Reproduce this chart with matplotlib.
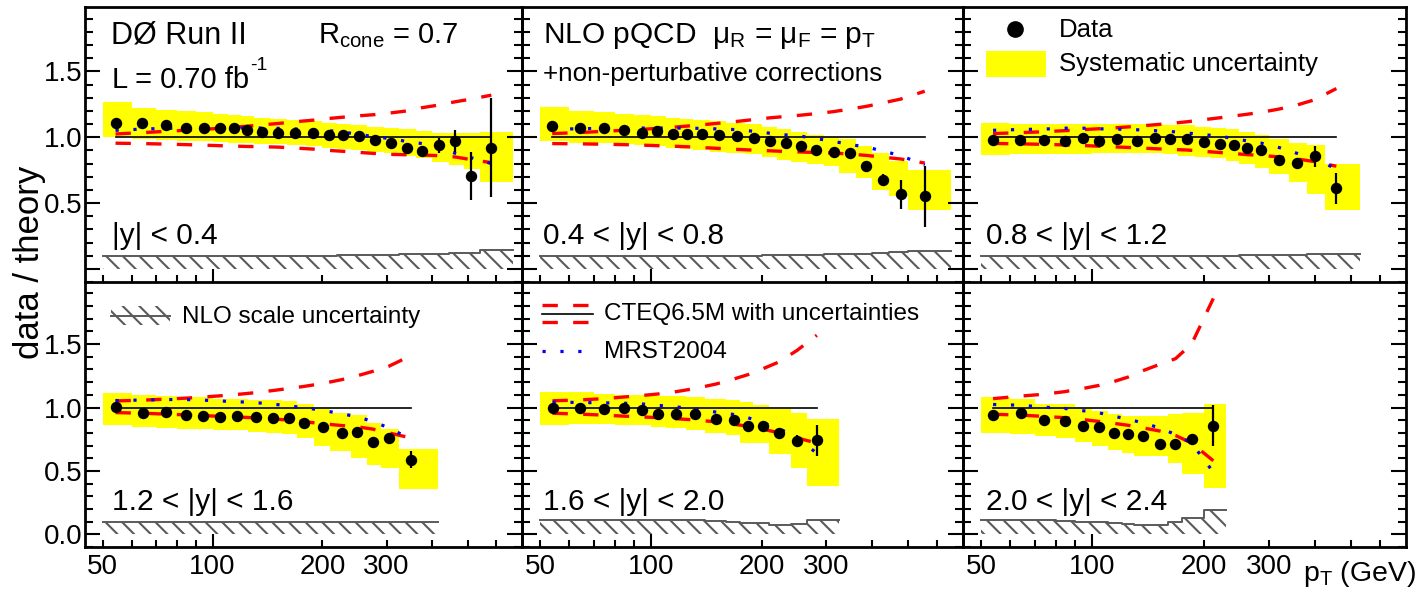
import numpy as np
import matplotlib
matplotlib.use("Agg")
import matplotlib.pyplot as plt
from matplotlib.ticker import FixedLocator, NullFormatter, FuncFormatter
from matplotlib.patches import Rectangle
from matplotlib.lines import Line2D

plt.rcParams['font.family'] = ['Liberation Sans', 'DejaVu Sans']
plt.rcParams['mathtext.fontset'] = 'custom'
plt.rcParams['mathtext.rm'] = 'Liberation Sans'
plt.rcParams['mathtext.it'] = 'Liberation Sans'
plt.rcParams['mathtext.default'] = 'regular'
plt.rcParams['hatch.color'] = '#5a5a5a'
plt.rcParams['hatch.linewidth'] = 1.5

# ---------------- data ----------------
rap_labels = ["|y| < 0.4", "0.4 < |y| < 0.8", "0.8 < |y| < 1.2",
              "1.2 < |y| < 1.6", "1.6 < |y| < 2.0", "2.0 < |y| < 2.4"]

# |y| < 0.4
edges_1 = [50, 60, 70, 80, 90, 100, 110, 120, 130, 145, 160, 180, 200, 220, 240, 265, 295, 325, 360, 400, 445, 490, 540, 665]
pt_1 = [54.2, 64.2, 74.3, 84.4, 94.5, 104.5, 114.2, 124.2, 136.5, 151.6, 168.5, 188.8, 208.7, 228.5, 251.3, 278, 307.5, 340.7, 375.4, 417.6, 463, 511, 581]
ratio_1 = [1.105, 1.105, 1.092, 1.071, 1.071, 1.071, 1.074, 1.053, 1.041, 1.033, 1.036, 1.033, 1.015, 1.02, 1.008, 0.982, 0.959, 0.919, 0.893, 0.939, 0.972, 0.705, 0.921]
stat_1 = [0.005] * 18 + [0.012, 0.057, 0.085, 0.185, 0.375]
syshi_1 = [1.27, 1.22, 1.21, 1.20, 1.19, 1.18, 1.17, 1.16, 1.15, 1.14, 1.13, 1.12, 1.11, 1.10, 1.09, 1.08, 1.07, 1.06, 1.05, 1.03, 1.03, 1.03, 1.04]
syslo_1 = [1.00, 0.99, 0.98, 0.975, 0.97, 0.965, 0.96, 0.955, 0.95, 0.945, 0.94, 0.93, 0.92, 0.91, 0.90, 0.89, 0.88, 0.86, 0.84, 0.81, 0.79, 0.76, 0.66]
cteqhi_1 = [1.025, 1.035, 1.045, 1.053, 1.06, 1.068, 1.076, 1.084, 1.094, 1.105, 1.118, 1.13, 1.143, 1.153, 1.163, 1.172, 1.185, 1.2, 1.225, 1.245, 1.27, 1.29, 1.32]
cteqlo_1 = [0.955, 0.952, 0.948, 0.944, 0.94, 0.936, 0.933, 0.93, 0.928, 0.925, 0.918, 0.91, 0.90, 0.893, 0.885, 0.877, 0.87, 0.867, 0.865, 0.86, 0.85, 0.83, 0.807]
mrst_1 = [1.053, 1.062, 1.068, 1.07, 1.071, 1.071, 1.071, 1.071, 1.07, 1.068, 1.063, 1.058, 1.05, 1.038, 1.023, 1.003, 0.99, 0.968, 0.952, 0.92, 0.878, 0.845, 0.80]
scale_1 = [0.10] * 13 + [0.102, 0.104, 0.106, 0.108, 0.11, 0.113, 0.116, 0.12, 0.124, 0.142]

# 0.4 < |y| < 0.8
edges_2 = [50, 60, 70, 80, 90, 100, 110, 120, 130, 145, 160, 180, 200, 220, 240, 265, 295, 325, 360, 400, 445, 500, 655]
pt_2 = [54, 64.2, 74.5, 84.5, 94.9, 104.3, 115, 125.5, 137.8, 153.3, 171, 191, 211.3, 232.3, 255.9, 281.9, 314, 348.5, 385.5, 428.5, 477, 555]
ratio_2 = [1.084, 1.071, 1.071, 1.053, 1.033, 1.048, 1.028, 1.028, 1.023, 1.02, 1.01, 0.995, 0.969, 0.957, 0.934, 0.901, 0.888, 0.883, 0.781, 0.672, 0.565, 0.55]
stat_2 = [0.005] * 17 + [0.01, 0.03, 0.045, 0.11, 0.23]
syshi_2 = [1.23, 1.20, 1.19, 1.18, 1.17, 1.16, 1.15, 1.14, 1.13, 1.12, 1.11, 1.10, 1.08, 1.06, 1.04, 1.02, 1.00, 0.99, 0.93, 0.88, 0.82, 0.75]
syslo_2 = [0.97, 0.96, 0.955, 0.95, 0.94, 0.93, 0.92, 0.91, 0.90, 0.89, 0.88, 0.87, 0.85, 0.83, 0.81, 0.80, 0.78, 0.73, 0.69, 0.60, 0.55, 0.45]
cteqhi_2 = [1.028, 1.036, 1.045, 1.053, 1.06, 1.068, 1.076, 1.085, 1.095, 1.107, 1.12, 1.135, 1.148, 1.158, 1.168, 1.18, 1.195, 1.215, 1.235, 1.262, 1.29, 1.35]
cteqlo_2 = [0.952, 0.95, 0.947, 0.944, 0.94, 0.936, 0.932, 0.928, 0.922, 0.915, 0.908, 0.902, 0.897, 0.892, 0.888, 0.884, 0.88, 0.872, 0.862, 0.848, 0.835, 0.804]
mrst_2 = [1.06, 1.065, 1.068, 1.07, 1.07, 1.07, 1.07, 1.07, 1.067, 1.063, 1.058, 1.045, 1.03, 1.018, 1.008, 0.99, 0.968, 0.945, 0.925, 0.895, 0.86, 0.79]
scale_2 = [0.10] * 12 + [0.102, 0.104, 0.106, 0.108, 0.11, 0.113, 0.116, 0.12, 0.125, 0.137]

# 0.8 < |y| < 1.2
edges_3 = [50, 60, 70, 80, 90, 100, 110, 125, 140, 155, 170, 190, 210, 230, 250, 275, 300, 340, 380, 425, 530]
pt_3 = [53.9, 63.9, 74, 84.1, 94.3, 104.5, 116.8, 131.7, 147.3, 162.6, 180.6, 200.6, 221, 241.9, 262.4, 286.7, 320.6, 357.6, 399, 457]
ratio_3 = [0.982, 0.982, 0.977, 0.969, 0.995, 0.969, 0.99, 0.972, 0.997, 0.99, 0.99, 0.964, 0.952, 0.939, 0.921, 0.901, 0.824, 0.807, 0.855, 0.613]
stat_3 = [0.005] * 17 + [0.02, 0.08, 0.118]
syshi_3 = [1.105, 1.10, 1.10, 1.10, 1.10, 1.10, 1.10, 1.10, 1.10, 1.09, 1.09, 1.08, 1.07, 1.06, 1.04, 1.02, 0.99, 0.96, 0.94, 0.80]
syslo_3 = [0.863, 0.87, 0.87, 0.875, 0.875, 0.88, 0.88, 0.88, 0.88, 0.87, 0.86, 0.85, 0.84, 0.82, 0.80, 0.77, 0.72, 0.66, 0.57, 0.45]
cteqhi_3 = [1.028, 1.035, 1.042, 1.05, 1.058, 1.065, 1.073, 1.083, 1.095, 1.105, 1.118, 1.134, 1.148, 1.162, 1.175, 1.19, 1.215, 1.245, 1.285, 1.37]
cteqlo_3 = [0.953, 0.95, 0.946, 0.942, 0.937, 0.932, 0.926, 0.92, 0.913, 0.908, 0.903, 0.893, 0.884, 0.876, 0.868, 0.862, 0.85, 0.835, 0.815, 0.78]
mrst_3 = [1.053, 1.059, 1.062, 1.069, 1.069, 1.064, 1.062, 1.057, 1.05, 1.044, 1.032, 1.02, 1.008, 0.99, 0.972, 0.955, 0.921, 0.878, 0.835, 0.76]
scale_3 = [0.10] * 14 + [0.102, 0.104, 0.106, 0.108, 0.11, 0.112]

# 1.2 < |y| < 1.6
edges_4 = [50, 60, 70, 80, 90, 100, 110, 125, 140, 155, 170, 190, 210, 240, 265, 290, 325, 415]
pt_4 = [54.2, 64.4, 74.3, 84.4, 94.4, 104.5, 116.6, 131.8, 146.3, 161.5, 178.6, 200.6, 226, 249, 274.7, 304, 350]
ratio_4 = [1.002, 0.958, 0.966, 0.94, 0.932, 0.924, 0.932, 0.924, 0.918, 0.918, 0.879, 0.845, 0.80, 0.808, 0.73, 0.756, 0.59]
stat_4 = [0.005] * 15 + [0.02, 0.065]
syshi_4 = [1.116, 1.10, 1.09, 1.08, 1.08, 1.07, 1.07, 1.06, 1.06, 1.05, 1.03, 1.00, 0.96, 0.94, 0.88, 0.83, 0.67]
syslo_4 = [0.861, 0.85, 0.84, 0.83, 0.83, 0.82, 0.82, 0.81, 0.80, 0.79, 0.76, 0.70, 0.66, 0.60, 0.55, 0.52, 0.36]
cteqhi_4 = [1.052, 1.058, 1.066, 1.074, 1.083, 1.092, 1.103, 1.118, 1.134, 1.15, 1.167, 1.19, 1.22, 1.25, 1.285, 1.325, 1.41]
cteqlo_4 = [0.96, 0.955, 0.948, 0.942, 0.936, 0.931, 0.926, 0.918, 0.911, 0.90, 0.888, 0.872, 0.858, 0.848, 0.83, 0.80, 0.76]
mrst_4 = [1.055, 1.059, 1.063, 1.063, 1.058, 1.052, 1.046, 1.038, 1.027, 1.013, 0.998, 0.978, 0.95, 0.928, 0.89, 0.84, 0.75]
scale_4 = [0.10] * 17

# 1.6 < |y| < 2.0
edges_5 = [50, 60, 70, 80, 90, 100, 110, 125, 140, 160, 175, 190, 210, 240, 265, 325]
pt_5 = [54.1, 64.3, 74.5, 84.6, 94.9, 104.7, 117.1, 131.9, 150.3, 168.1, 184, 201.4, 223.2, 249.5, 282.6]
ratio_5 = [0.997, 0.997, 0.99, 0.997, 0.979, 0.95, 0.95, 0.945, 0.911, 0.905, 0.858, 0.858, 0.80, 0.735, 0.74]
stat_5 = [0.005] * 13 + [0.05, 0.122]
syshi_5 = [1.123, 1.12, 1.11, 1.10, 1.10, 1.09, 1.09, 1.08, 1.07, 1.06, 1.04, 1.02, 0.99, 0.96, 0.91]
syslo_5 = [0.866, 0.87, 0.87, 0.86, 0.86, 0.85, 0.84, 0.82, 0.80, 0.78, 0.72, 0.72, 0.63, 0.52, 0.38]
cteqhi_5 = [1.053, 1.06, 1.07, 1.083, 1.095, 1.107, 1.125, 1.15, 1.185, 1.225, 1.26, 1.305, 1.36, 1.45, 1.57]
cteqlo_5 = [0.955, 0.948, 0.94, 0.932, 0.926, 0.92, 0.912, 0.902, 0.887, 0.868, 0.852, 0.83, 0.80, 0.76, 0.72]
mrst_5 = [1.042, 1.04, 1.037, 1.034, 1.028, 1.017, 1.005, 0.99, 0.964, 0.945, 0.919, 0.88, 0.835, 0.76, 0.64]
scale_5 = [0.113, 0.113, 0.113, 0.113, 0.113, 0.113, 0.113, 0.11, 0.105, 0.10, 0.092, 0.092, 0.071, 0.084, 0.113]

# 2.0 < |y| < 2.4
edges_6 = [50, 60, 70, 80, 90, 100, 110, 120, 130, 145, 160, 175, 200, 230]
pt_6 = [53.9, 64, 74, 84.1, 94.3, 104.5, 114.4, 124.9, 136.8, 152, 167.8, 185.5, 212.4]
ratio_6 = [0.94, 0.953, 0.898, 0.892, 0.853, 0.845, 0.80, 0.792, 0.779, 0.714, 0.709, 0.748, 0.858]
stat_6 = [0.005] * 11 + [0.03, 0.158]
syshi_6 = [1.084, 1.068, 1.031, 1.024, 0.997, 0.971, 0.95, 0.937, 0.932, 0.932, 0.945, 0.958, 1.031]
syslo_6 = [0.80, 0.79, 0.774, 0.76, 0.727, 0.70, 0.664, 0.638, 0.617, 0.617, 0.565, 0.472, 0.362]
cteqhi_6 = [1.07, 1.09, 1.105, 1.125, 1.15, 1.175, 1.205, 1.24, 1.29, 1.34, 1.385, 1.5, 1.86]
cteqlo_6 = [0.947, 0.94, 0.93, 0.92, 0.905, 0.89, 0.875, 0.86, 0.84, 0.815, 0.78, 0.72, 0.58]
mrst_6 = [1.024, 1.018, 1.003, 0.993, 0.975, 0.958, 0.93, 0.91, 0.878, 0.84, 0.787, 0.72, 0.49]
scale_6 = [0.113, 0.113, 0.11, 0.105, 0.10, 0.095, 0.09, 0.08, 0.071, 0.071, 0.097, 0.131, 0.189]

panels = [
    (edges_1, pt_1, ratio_1, stat_1, syshi_1, syslo_1, cteqhi_1, cteqlo_1, mrst_1, scale_1),
    (edges_2, pt_2, ratio_2, stat_2, syshi_2, syslo_2, cteqhi_2, cteqlo_2, mrst_2, scale_2),
    (edges_3, pt_3, ratio_3, stat_3, syshi_3, syslo_3, cteqhi_3, cteqlo_3, mrst_3, scale_3),
    (edges_4, pt_4, ratio_4, stat_4, syshi_4, syslo_4, cteqhi_4, cteqlo_4, mrst_4, scale_4),
    (edges_5, pt_5, ratio_5, stat_5, syshi_5, syslo_5, cteqhi_5, cteqlo_5, mrst_5, scale_5),
    (edges_6, pt_6, ratio_6, stat_6, syshi_6, syslo_6, cteqhi_6, cteqlo_6, mrst_6, scale_6),
]

x_minor = [50, 60, 70, 80, 90, 200, 300, 400, 500, 600]
x_labels = [50, 100, 200, 300]

# ---------------- layout ----------------
W, H = 1425, 594
fig = plt.figure(figsize=(W / 100, H / 100), dpi=100)
fig.patch.set_facecolor('white')
col_px = [85, 522, 963, 1406]
row_px = [7, 282, 547]

YELLOW = '#ffff00'
HATCH = '#5a5a5a'
HATCH_PAT = '\\\\'
RED_LS = (0, (4.6, 4.6))
BLUE_LS = (0, (1.0, 4.6))


def ext(v):
    v = list(v)
    return np.array(v + [v[-1]])


for i, (edges, pt, ratio, stat, shi, slo, chi, clo, mr, sc) in enumerate(panels):
    r, c = divmod(i, 3)
    x0, x1 = col_px[c], col_px[c + 1]
    y0, y1 = row_px[r], row_px[r + 1]
    ax = fig.add_axes([x0 / W, 1 - y1 / H, (x1 - x0) / W, (y1 - y0) / H])
    ax.set_facecolor('none')
    ax.set_xscale('log')
    ax.set_xlim(44.7, 705)
    ax.set_ylim(-0.1, 1.99)

    ax.fill_between(edges, ext(slo), ext(shi), step='post', color=YELLOW, lw=0, zorder=1)
    ax.fill_between(edges, 0, ext(sc), step='post', facecolor='none', edgecolor=HATCH,
                    hatch=HATCH_PAT, lw=0, zorder=1.5)
    ax.step(edges, ext(sc), where='post', color=HATCH, lw=1.4, zorder=1.6)

    ax.plot(pt, np.ones(len(pt)), color='black', lw=1.2, zorder=3)
    ax.plot(pt, chi, color='red', lw=2.4, ls=RED_LS, zorder=3)
    ax.plot(pt, clo, color='red', lw=2.4, ls=RED_LS, zorder=3)
    ax.plot(pt, mr, color='blue', lw=2.3, ls=BLUE_LS, zorder=4)
    ax.errorbar(pt, ratio, yerr=stat, fmt='o', ms=7.2, color='black', mec='black',
                elinewidth=1.6, capsize=0, zorder=5)

    # ticks
    ax.xaxis.set_major_locator(FixedLocator([100]))
    ax.xaxis.set_minor_locator(FixedLocator(x_minor))
    if r == 1:
        ax.xaxis.set_major_formatter(FuncFormatter(lambda v, p: f'{v:g}'))
        ax.xaxis.set_minor_formatter(FuncFormatter(
            lambda v, p: f'{v:g}' if any(abs(v - t) < 1e-6 for t in x_labels) else ''))
    else:
        ax.xaxis.set_major_formatter(NullFormatter())
        ax.xaxis.set_minor_formatter(NullFormatter())

    ax.yaxis.set_major_locator(FixedLocator([0.0, 0.5, 1.0, 1.5]))
    ax.yaxis.set_minor_locator(FixedLocator(np.round(np.arange(-0.1, 1.95, 0.1), 2)))
    ax.yaxis.set_minor_formatter(NullFormatter())
    if c == 0:
        if r == 0:
            ax.yaxis.set_major_formatter(FuncFormatter(lambda v, p: '' if abs(v) < 1e-6 else f'{v:.1f}'))
        else:
            ax.yaxis.set_major_formatter(FuncFormatter(lambda v, p: f'{v:.1f}'))
    else:
        ax.yaxis.set_major_formatter(NullFormatter())

    ax.tick_params(axis='both', which='both', direction='in', top=False, right=True,
                   width=1.5, labelsize=20, colors='black')
    ax.tick_params(axis='y', which='major', length=10.5, pad=1.5)
    ax.tick_params(axis='y', which='minor', length=5.5)
    ax.tick_params(axis='x', which='major', length=9.5, pad=5)
    ax.tick_params(axis='x', which='minor', length=5, pad=5)
    for s in ax.spines.values():
        s.set_linewidth(2.0)
    ax.spines['top'].set_visible(r == 0)


def ftext(px, py, s, size, **kw):
    return fig.text(px / W, 1 - py / H, s, fontsize=size, ha=kw.pop('ha', 'left'),
                    va=kw.pop('va', 'center'), **kw)


# panel texts
ftext(111, 36, 'DØ Run II', 22)
ftext(318, 36, r'R$_{cone}$ = 0.7', 21)
lum = ftext(112, 80, 'L = 0.70 fb', 21)
renderer = fig.canvas.get_renderer()
bb = lum.get_window_extent(renderer)
ftext(bb.x1 + 1, 66, '-1', 14)
ftext(543, 36, r'NLO pQCD  $\mu_{R}$ = $\mu_{F}$ = p$_{T}$', 21.5)
ftext(543, 74, '+non-perturbative corrections', 18.7)

rap_pos = [(112, 236), (543, 236), (986, 236), (112, 502), (543, 502), (986, 502)]
for (px, py), lab in zip(rap_pos, rap_labels):
    ftext(px, py, lab, 21.5)

# legend: Data / Systematic uncertainty
fig.add_artist(Line2D([1015 / W], [1 - 29 / H], marker='o', ms=11, color='black',
                      ls='none', transform=fig.transFigure))
ftext(1059, 30, 'Data', 18.5)
fig.add_artist(Rectangle((986 / W, 1 - 77 / H), 60 / W, 26 / H, color=YELLOW, lw=0,
                         transform=fig.transFigure))
ftext(1059, 64, 'Systematic uncertainty', 18.5)

# legend: NLO scale uncertainty
fig.add_artist(Rectangle((111 / W, 1 - 325 / H), 59 / W, 19 / H, facecolor='none',
                         edgecolor=HATCH, hatch=HATCH_PAT, lw=0, transform=fig.transFigure))
fig.add_artist(Line2D([111 / W, 170 / W], [1 - 316 / H, 1 - 316 / H], color=HATCH, lw=1.4,
                      transform=fig.transFigure))
ftext(182, 317, 'NLO scale uncertainty', 17.5)

# legend: CTEQ / MRST
for yy in (305, 322):
    fig.add_artist(Line2D([542 / W, 590 / W], [1 - yy / H, 1 - yy / H], color='red', lw=2.4,
                          ls=RED_LS, transform=fig.transFigure))
fig.add_artist(Line2D([542 / W, 593 / W], [1 - 313.5 / H, 1 - 313.5 / H], color='black', lw=1.2,
                      transform=fig.transFigure))
ftext(604, 314, 'CTEQ6.5M with uncertainties', 17.5)
fig.add_artist(Line2D([542 / W, 593 / W], [1 - 351 / H, 1 - 351 / H], color='blue', lw=2.3,
                      ls=BLUE_LS, transform=fig.transFigure))
ftext(604, 352, 'MRST2004', 17.5)

# axis titles
ftext(30, 262, 'data / theory', 25, rotation=90, ha='center')
ftext(1303, 574, r'p$_{T}$ (GeV)', 20.5)

fig.savefig('out.png', dpi=100, facecolor='white')
